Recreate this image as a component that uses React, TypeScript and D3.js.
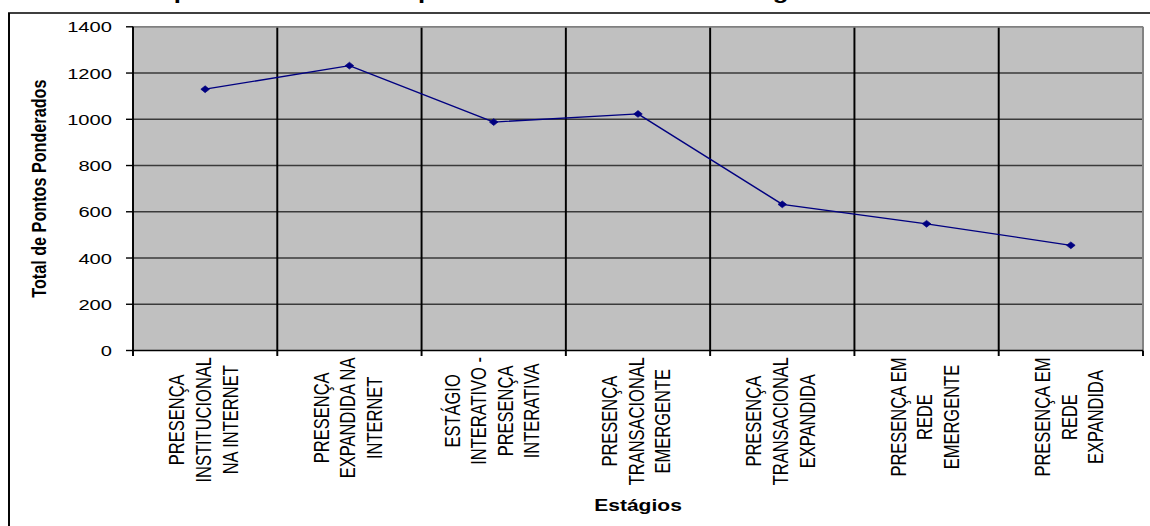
import React, { useMemo } from 'react';
import * as d3 from 'd3';

// Stage labels, one entry per line of the rotated category label
const stages: string[][] = [
  ['PRESENÇA', 'INSTITUCIONAL', 'NA INTERNET'],
  ['PRESENÇA', 'EXPANDIDA NA', 'INTERNET'],
  ['ESTÁGIO', 'INTERATIVO -', 'PRESENÇA', 'INTERATIVA'],
  ['PRESENÇA', 'TRANSACIONAL', 'EMERGENTE'],
  ['PRESENÇA', 'TRANSACIONAL', 'EXPANDIDA'],
  ['PRESENÇA EM', 'REDE', 'EMERGENTE'],
  ['PRESENÇA EM', 'REDE', 'EXPANDIDA'],
];
const stageKeys = stages.map((lines) => lines.join(' '));

// Total weighted points per stage
const weightedPoints = [1130, 1232, 988, 1023, 632, 548, 455];

const yTicks = [0, 200, 400, 600, 800, 1000, 1200, 1400];

const chartTitle = 'Comparativo do total de pontos obtidos em cada estágio';
const yTitle = 'Total de Pontos Ponderados';
const xTitle = 'Estágios';

const W = 1150;
const H = 526;
// The drawing is laid out in a narrower coordinate space and stretched horizontally
const SX = 1.3;
const VW = W / SX;
const FONT = "'Liberation Sans', Arial, Helvetica, sans-serif";

const plot = { left: 133 / SX, right: 1143 / SX, top: 26.8, bottom: 350.5 };

const CAT_FONT = 16.5;
const CAT_LINE = 20.5;
const TICK_FONT = 15.5;
const AXIS_TITLE_FONT = 16.2;
const TITLE_FONT = 19.8;

let measureCtx: CanvasRenderingContext2D | null = null;
function textWidth(text: string, font: string): number {
  if (!measureCtx) {
    const c = document.createElement('canvas');
    measureCtx = c.getContext('2d');
  }
  if (!measureCtx) return text.length * 10;
  measureCtx.font = font;
  return measureCtx.measureText(text).width;
}

export default function App() {
  const x = useMemo(
    () => d3.scaleBand<string>().domain(stageKeys).range([plot.left, plot.right]).padding(0),
    []
  );
  const y = useMemo(
    () => d3.scaleLinear().domain([0, 1400]).range([plot.bottom, plot.top]),
    []
  );

  const bw = x.bandwidth();
  const cx = (i: number) => (x(stageKeys[i]) as number) + bw / 2;

  const linePath = d3
    .line<number>()
    .x((_, i) => cx(i))
    .y((d) => y(d))(weightedPoints) as string;

  const boundaries = d3.range(stageKeys.length + 1).map((i) =>
    i < stageKeys.length ? (x(stageKeys[i]) as number) : plot.right
  );

  const catFont = `${CAT_FONT}px 'Liberation Sans', Arial`;
  const labelTop = 357;

  const mw = 3.3;
  const mh = 3.4;

  return (
    <svg
      width={W}
      height={H}
      viewBox={`0 0 ${VW} ${H}`}
      preserveAspectRatio="none"
      style={{ position: 'absolute', left: 0, top: 0, background: '#fff' }}
      fontFamily={FONT}
    >
      <rect x={0} y={0} width={VW} height={H} fill="#ffffff" />

      {/* chart title, mostly above the visible area */}
      <text x={89.6} y={-1.2} fontSize={TITLE_FONT} fontWeight="bold" fill="#000">
        {chartTitle}
      </text>

      {/* outer chart frame */}
      <rect
        x={9 / SX}
        y={13}
        width={VW}
        height={H}
        fill="none"
        stroke="#000"
        strokeWidth={1.5}
      />

      {/* plot area */}
      <rect
        x={plot.left}
        y={plot.top}
        width={plot.right - plot.left}
        height={plot.bottom - plot.top}
        fill="#c0c0c0"
      />

      {/* horizontal gridlines */}
      {yTicks.slice(1, -1).map((t) => (
        <line
          key={`h${t}`}
          x1={plot.left}
          x2={plot.right}
          y1={y(t)}
          y2={y(t)}
          stroke="#3a3a3a"
          strokeWidth={1.6}
        />
      ))}

      {/* vertical gridlines between stages */}
      {boundaries.slice(1, -1).map((bx, i) => (
        <line
          key={`v${i}`}
          x1={bx}
          x2={bx}
          y1={plot.top}
          y2={plot.bottom}
          stroke="#000"
          strokeWidth={1.5}
        />
      ))}

      {/* plot border (top and right) */}
      <line x1={plot.left} x2={plot.right} y1={plot.top} y2={plot.top} stroke="#808080" strokeWidth={1.8} />
      <line x1={plot.right} x2={plot.right} y1={plot.top} y2={plot.bottom} stroke="#808080" strokeWidth={1.5} />

      {/* y axis */}
      <line x1={plot.left} x2={plot.left} y1={plot.top} y2={plot.bottom} stroke="#000" strokeWidth={1.5} />
      {yTicks.map((t) => (
        <g key={`yt${t}`}>
          <line x1={plot.left - 5.4} x2={plot.left} y1={y(t)} y2={y(t)} stroke="#000" strokeWidth={1.4} />
          <text
            x={112 / SX}
            y={y(t) + 0.36 * TICK_FONT}
            fontSize={TICK_FONT}
            textAnchor="end"
            fill="#000"
          >
            {t}
          </text>
        </g>
      ))}

      {/* x axis */}
      <line x1={plot.left} x2={plot.right} y1={plot.bottom} y2={plot.bottom} stroke="#000" strokeWidth={1.5} />
      {boundaries.map((bx, i) => (
        <line key={`xt${i}`} x1={bx} x2={bx} y1={plot.bottom} y2={plot.bottom + 5.5} stroke="#000" strokeWidth={1.5} />
      ))}

      {/* rotated stage labels */}
      {stages.map((lines, i) => {
        const longest = d3.max(lines, (l) => textWidth(l, catFont)) as number;
        const cy = labelTop + longest / 2;
        const n = lines.length;
        return (
          <g key={`cat${i}`}>
            {lines.map((l, j) => {
              const colCenter = cx(i) - 1.5 + (j - (n - 1) / 2) * CAT_LINE;
              const bx = colCenter + 0.36 * CAT_FONT;
              return (
                <text
                  key={j}
                  transform={`translate(${bx},${cy}) rotate(-90)`}
                  fontSize={CAT_FONT}
                  textAnchor="middle"
                  fill="#000"
                >
                  {l}
                </text>
              );
            })}
          </g>
        );
      })}

      {/* series line and diamond markers */}
      <path d={linePath} fill="none" stroke="#000080" strokeWidth={1.3} />
      {weightedPoints.map((v, i) => {
        const px = cx(i);
        const py = y(v);
        return (
          <path
            key={`m${i}`}
            d={`M${px},${py - mh}L${px + mw},${py}L${px},${py + mh}L${px - mw},${py}Z`}
            fill="#000080"
            stroke="#000080"
            strokeWidth={0.6}
          />
        );
      })}

      {/* axis titles */}
      <text
        transform={`translate(${38.5 / SX + 0.36 * AXIS_TITLE_FONT},${(plot.top + plot.bottom) / 2}) rotate(-90)`}
        fontSize={AXIS_TITLE_FONT}
        fontWeight="bold"
        textAnchor="middle"
        fill="#000"
      >
        {yTitle}
      </text>
      <text
        x={(plot.left + plot.right) / 2}
        y={511}
        fontSize={AXIS_TITLE_FONT}
        fontWeight="bold"
        textAnchor="middle"
        fill="#000"
      >
        {xTitle}
      </text>
    </svg>
  );
}
